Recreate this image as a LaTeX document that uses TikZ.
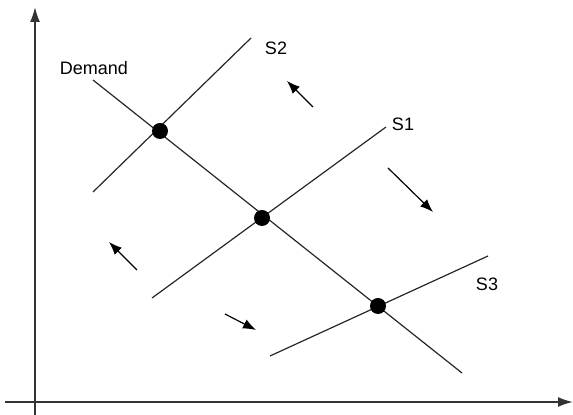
\documentclass[tikz,border=0pt]{standalone}
\usepackage{fontspec}
\setmainfont{Liberation Sans}
\usetikzlibrary{arrows.meta}

\begin{document}
\begin{tikzpicture}[x=0.5pt,y=-0.5pt,
    curve/.style={line width=0.6pt, black!85},
    axis/.style={line width=0.9pt, black!80, -{Latex[length=7.5pt,width=5pt]}},
    movearrow/.style={line width=0.6pt, -{Latex[length=6.5pt,width=5pt]}},
    eqpt/.style={circle, fill, inner sep=0pt, minimum size=8pt},
    lbl/.style={font=\fontsize{9}{11}\selectfont}]
    \useasboundingbox (0,0) rectangle (573,415);

    % Axes
    \coordinate (ybot) at (35,415);
    \coordinate (ytop) at (35,7);
    \coordinate (xleft) at (5,402);
    \coordinate (xright) at (573,402);
    \draw[axis] (ybot) -- (ytop);
    \draw[axis] (xleft) -- (xright);

    % Curve end points
    \coordinate (d0) at (93,80);   \coordinate (d1) at (462,373);
    \coordinate (s20) at (93,192); \coordinate (s21) at (251,38);
    \coordinate (s10) at (152,298); \coordinate (s11) at (386,127);
    \coordinate (s30) at (270,356); \coordinate (s31) at (488,256);

    % Demand and supply curves
    \draw[curve] (d0) -- (d1);
    \draw[curve] (s20) -- (s21);
    \draw[curve] (s10) -- (s11);
    \draw[curve] (s30) -- (s31);

    % Labels
    \node[lbl] (demand) at (94,68) {Demand};
    \node[lbl] (s2) at (276,48) {S2};
    \node[lbl] (s1) at (403,124) {S1};
    \node[lbl] (s3) at (487,284) {S3};

    % Equilibrium points
    \node[eqpt] (e2) at (160,131) {};
    \node[eqpt] (e1) at (262,218) {};
    \node[eqpt] (e3) at (378,306) {};

    % Shift arrows
    \coordinate (a1) at (313,107); \coordinate (b1) at (287,81);
    \coordinate (a2) at (388,168); \coordinate (b2) at (433,212);
    \coordinate (a3) at (137,270); \coordinate (b3) at (109,242);
    \coordinate (a4) at (225,314); \coordinate (b4) at (256,330);
    \draw[movearrow] (a1) -- (b1);
    \draw[movearrow] (a2) -- (b2);
    \draw[movearrow] (a3) -- (b3);
    \draw[movearrow] (a4) -- (b4);
\end{tikzpicture}
\end{document}
